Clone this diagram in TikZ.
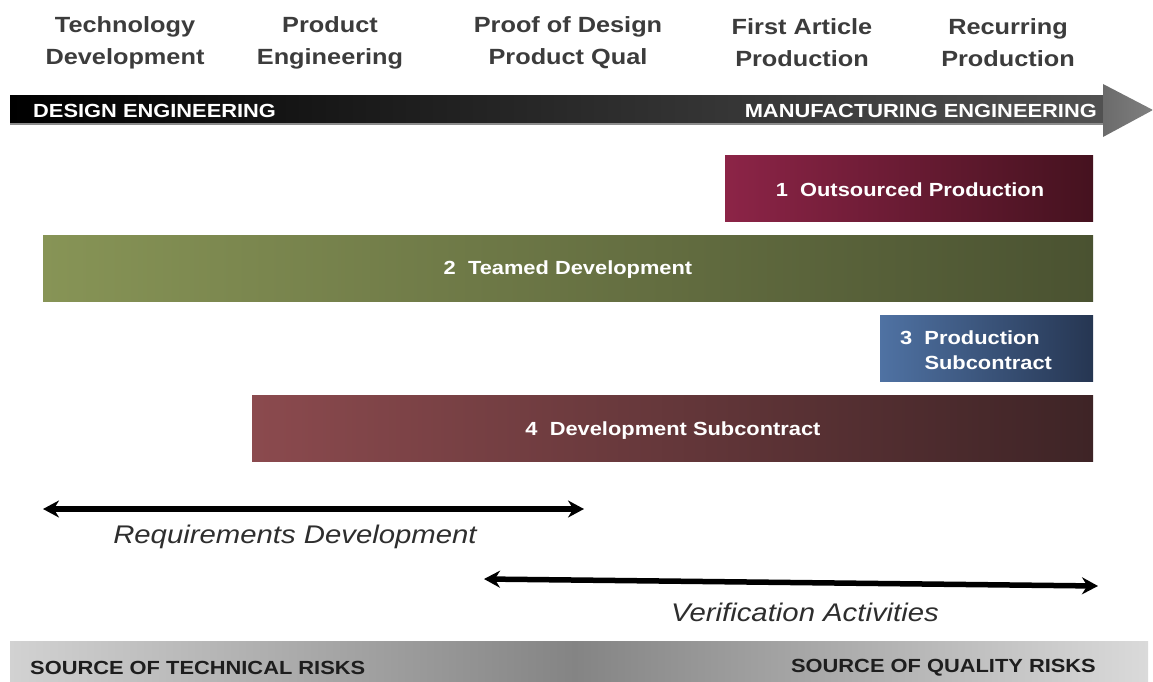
\documentclass[tikz,border=0pt]{standalone}
\usepackage{fontspec}
\setmainfont{Liberation Sans}[FakeStretch=1.15]
\usetikzlibrary{arrows.meta}
\definecolor{headtxt}{HTML}{3C3C3C}
\definecolor{labtxt}{HTML}{2E2E2E}
\definecolor{risktxt}{HTML}{1E1E1E}
\definecolor{outL}{HTML}{8C2447}\definecolor{outR}{HTML}{45121F}
\definecolor{teamL}{HTML}{879456}\definecolor{teamR}{HTML}{4A5231}
\definecolor{prodL}{HTML}{4F72A3}\definecolor{prodR}{HTML}{263652}
\definecolor{devL}{HTML}{8B4A4E}\definecolor{devR}{HTML}{3E2426}
\definecolor{bandL}{HTML}{D2D2D2}\definecolor{bandM}{HTML}{848484}\definecolor{bandR}{HTML}{DADADA}
\begin{document}
\begin{tikzpicture}[x=1pt,y=-1pt,
  phase/.style={font=\bfseries\fontsize{22}{32}\selectfont, text=headtxt, align=center, inner sep=0pt},
  bandtxt/.style={font=\bfseries\fontsize{19}{22}\selectfont, inner sep=0pt},
  boxtxt/.style={font=\bfseries\fontsize{19}{25}\selectfont, text=white, inner sep=0pt},
  spanarrow/.style={line width=5.5pt, {Stealth[length=16pt,width=17pt]}-{Stealth[length=16pt,width=17pt]}},
  spantxt/.style={font=\itshape\fontsize{25.5}{30}\selectfont, text=labtxt, inner sep=0pt}]
\useasboundingbox (0,0) rectangle (1153,682);
\fill[white] (0,0) rectangle (1153,682);

% life-cycle phases
\node[phase] (tech)  at (125,43) {Technology\\Development};
\node[phase] (peng)  at (330,43) {Product\\Engineering};
\node[phase] (proof) at (568,43) {Proof of Design\\Product Qual};
\node[phase] (first) at (802,43) {First Article\\Production};
\node[phase] (recur) at (1008,43) {Recurring\\Production};

% design -> manufacturing arrow
\shade[left color=black, right color=black!68] (10,96) rectangle (1105,124);
\draw[black!45, line width=1.5pt] (10,124) -- (1105,124);
\shade[left color=black!58, right color=black!50] (1103,84) -- (1153,110) -- (1103,137) -- cycle;
\node[bandtxt, text=white, anchor=west] (design) at (33,111) {DESIGN ENGINEERING};
\node[bandtxt, text=white, anchor=east] (manuf) at (1097,111) {MANUFACTURING ENGINEERING};

% sourcing options
\shade[left color=outL, right color=outR] (725,155) rectangle (1093,221);
\node[boxtxt] (opt1) at (910,190) {1\ \ Outsourced Production};
\shade[left color=teamL, right color=teamR] (43,235) rectangle (1093,301);
\node[boxtxt] (opt2) at (568,270) {2\ \ Teamed Development};
\shade[left color=prodL, right color=prodR] (880,315) rectangle (1093,381);
\node[boxtxt, align=left, anchor=west] (opt3) at (900,350) {3\ \ Production\\\phantom{3\ \ }Subcontract};
\shade[left color=devL, right color=devR] (252,395) rectangle (1093,461);
\node[boxtxt] (opt4) at (673,431) {4\ \ Development Subcontract};

% activity spans
\coordinate (reqL) at (43,509);
\coordinate (reqR) at (584,509);
\draw[spanarrow] (reqL) -- (reqR);
\node[spantxt] (req) at (295,537) {Requirements Development};
\coordinate (verL) at (484,579);
\coordinate (verR) at (1098,586);
\draw[spanarrow] (verL) -- (verR);
\node[spantxt] (ver) at (805,612) {Verification Activities};

% risk band, darkest in the middle
\shade[left color=bandL, right color=bandM] (10,641) rectangle (575,682);
\shade[left color=bandM, right color=bandR] (574,641) rectangle (1148,682);
\node[bandtxt, text=risktxt, anchor=west] (tech risk) at (30,668) {SOURCE OF TECHNICAL RISKS};
\node[bandtxt, text=risktxt, anchor=east] (qual risk) at (1096,668) {SOURCE OF QUALITY RISKS};
\end{tikzpicture}
\end{document}
